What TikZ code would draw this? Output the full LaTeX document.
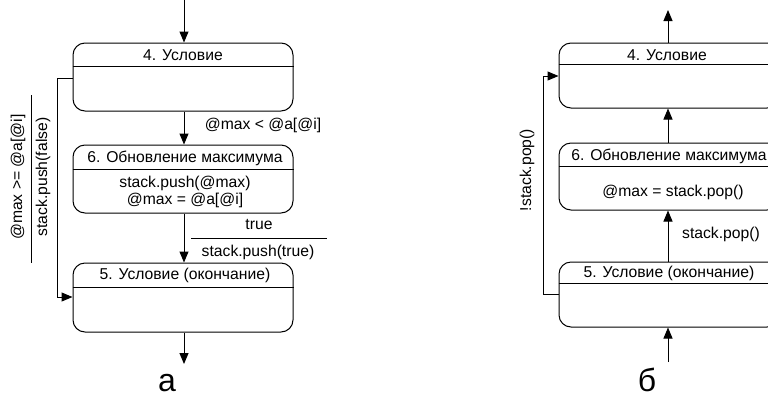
\documentclass[tikz,border=0pt]{standalone}
\usepackage{fontspec}
\setmainfont{Liberation Sans}
\usetikzlibrary{arrows.meta}
\begin{document}
\begin{tikzpicture}[x=1pt,y=-1pt,
  statebox/.style={draw, line width=1pt, rounded corners=12pt, minimum width=220pt, inner sep=0pt},
  arr/.style={line width=1pt, -{Triangle[length=11pt,width=9pt]}},
  plain/.style={line width=1pt},
  lbl/.style={font=\fontsize{15.7}{17}\selectfont, inner sep=0pt, anchor=base},
  rlbl/.style={font=\fontsize{15.7}{17}\selectfont, inner sep=0pt, rotate=90},
  captext/.style={font=\fontsize{32}{34}\selectfont, inner sep=0pt, anchor=base}]
\useasboundingbox (0,0) rectangle (768,397);
\clip (0,0) rectangle (768,397);

% ---------- а: forward pass ----------
\node[statebox, minimum height=68pt] (s4) at (183,77) {};
\node[statebox, minimum height=68pt] (s6) at (183,179) {};
\node[statebox, minimum height=69pt] (s5) at (183,297.5) {};
\draw[plain] (s4.west |- 0,66) -- (s4.east |- 0,66);
\draw[plain] (s6.west |- 0,169) -- (s6.east |- 0,169);
\draw[plain] (s5.west |- 0,287) -- (s5.east |- 0,287);

\node[lbl] (s4t) at (183,60) {4. Условие};
\node[lbl] (s6t) at (185,162) {6. Обновление максимума};
\node[lbl] (s6a) at (185,187) {stack.push(@max)};
\node[lbl] (s6b) at (185,204) {@max = @a[@i]};
\node[lbl] (s5t) at (185,279) {5. Условие (окончание)};

\coordinate (inA) at (184,0);
\coordinate (outA) at (184,364);
\draw[arr] (inA) -- (s4.north -| inA);
\draw[arr] (s4.south -| inA) -- (s6.north -| inA);
\draw[arr] (s6.south -| inA) -- (s5.north -| inA);
\draw[arr] (s5.south -| inA) -- (outA);

\node[lbl] (g46) at (263,129) {@max < @a[@i]};
\node[lbl] (g65) at (259,229) {true};
\coordinate (f65a) at (191,238);
\coordinate (f65b) at (327,238);
\draw[plain] (f65a) -- (f65b);
\node[lbl] (a65) at (258,256) {stack.push(true)};

\coordinate (l1) at (57,78);
\coordinate (l2) at (57,297);
\draw[arr] (s4.west |- l1) -- (l1) -- (l2) -- (s5.west |- l2);
\coordinate (f45a) at (31,95);
\coordinate (f45b) at (31,263);
\draw[plain] (f45a) -- (f45b);
\node[rlbl] (g45) at (18,177) {@max >= @a[@i]};
\node[rlbl] (a45) at (43,177) {stack.push(false)};

\node[captext] (capA) at (167,391) {а};

% ---------- б: backward pass ----------
\node[statebox, minimum height=65pt] (r4) at (669,75.5) {};
\node[statebox, minimum height=67pt] (r6) at (669,176.5) {};
\node[statebox, minimum height=65pt] (r5) at (669,294.5) {};
\draw[plain] (r4.west |- 0,64) -- (r4.east |- 0,64);
\draw[plain] (r6.west |- 0,166) -- (r6.east |- 0,166);
\draw[plain] (r5.west |- 0,283) -- (r5.east |- 0,283);

\node[lbl] (r4t) at (667,60) {4. Условие};
\node[lbl] (r6t) at (669,160) {6. Обновление максимума};
\node[lbl] (r6a) at (673,196) {@max = stack.pop()};
\node[lbl] (r5t) at (669,277) {5. Условие (окончание)};

\coordinate (inB) at (668,362);
\coordinate (outB) at (668,10);
\draw[arr] (inB) -- (r5.south -| inB);
\draw[arr] (r5.north -| inB) -- (r6.south -| inB);
\draw[arr] (r6.north -| inB) -- (r4.south -| inB);
\draw[arr] (r4.north -| inB) -- (outB);

\node[lbl] (g56) at (721,238) {stack.pop()};

\coordinate (m1) at (543,294);
\coordinate (m2) at (543,76);
\draw[arr] (r5.west |- m1) -- (m1) -- (m2) -- (r4.west |- m2);
\node[rlbl] (g54) at (527,170) {!stack.pop()};

\node[captext] (capB) at (647,391) {б};
\end{tikzpicture}
\end{document}
